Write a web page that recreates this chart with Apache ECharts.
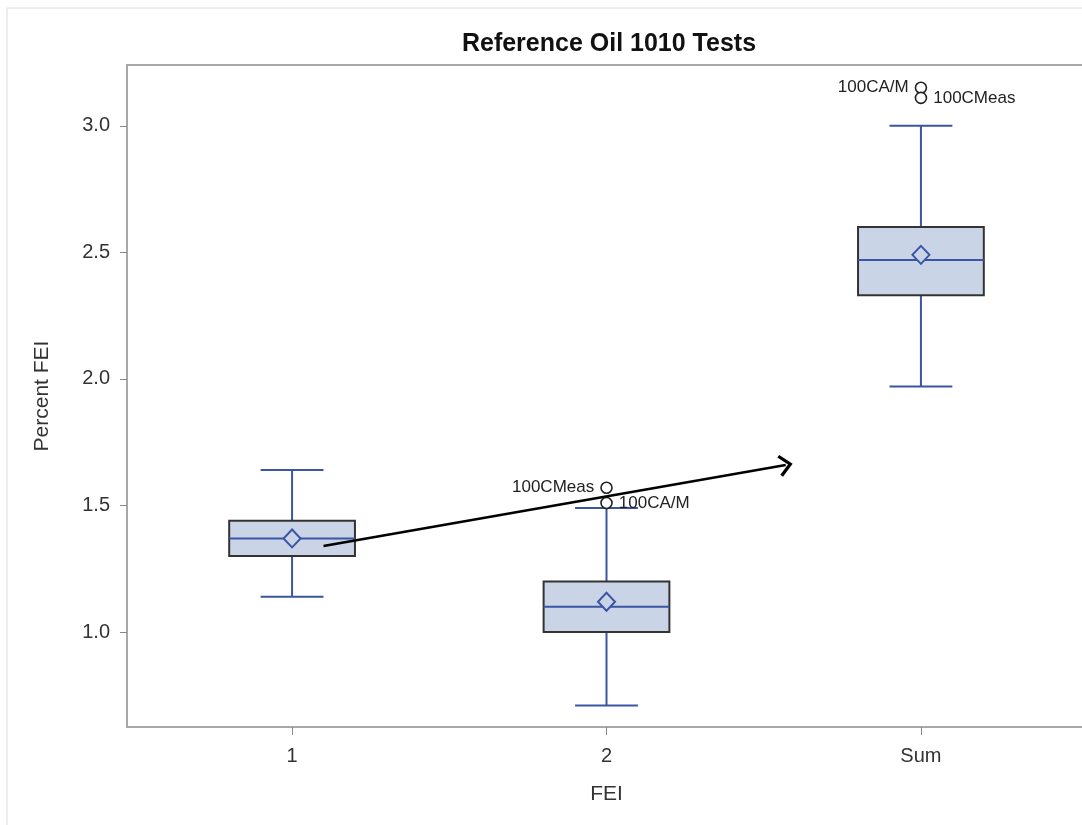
<!DOCTYPE html>
<html>
<head>
<meta charset="utf-8">
<script src="https://cdn.jsdelivr.net/npm/echarts@6/dist/echarts.min.js"></script>
<style>
  html, body { margin: 0; background: #fff; }
  #boxChart { width: 1082px; height: 825px; }
</style>
</head>
<body>
<div id="boxChart"></div>
<script>
// groups on the x axis
const categories = ["1", "2", "Sum"];

// box statistics per group
const whiskerLow = [1.14, 0.71, 1.97];
const q1 = [1.30, 1.00, 2.33];
const median = [1.37, 1.10, 2.47];
const q3 = [1.44, 1.20, 2.60];
const whiskerHigh = [1.64, 1.49, 3.00];
const means = [1.37, 1.12, 2.49];

// outliers (group index is 1-based)
const outlierGroup = [2, 2, 3, 3];
const outlierValue = [1.57, 1.51, 3.15, 3.11];
const outlierName = ["100CMeas", "100CA/M", "100CA/M", "100CMeas"];

// y tick labels
const yTicks = [1.0, 1.5, 2.0, 2.5, 3.0];

// annotation arrow, in data units [x, y]
const arrowFrom = [1.10, 1.34];
const arrowTo = [2.57, 1.66];

const chart = echarts.init(document.getElementById("boxChart"));

const blue = "#3b55a5";
const font = "Liberation Sans, Arial";
const boxData = categories.map((c, i) => [
  i + 1, whiskerLow[i], q1[i], median[i], q3[i], whiskerHigh[i]
]);

const options = {
  backgroundColor: "#fff",
  animation: false,
  title: {
    text: "Reference Oil 1010 Tests",
    left: 604,
    top: 27,
    textAlign: "center",
    textStyle: { fontFamily: font, fontSize: 25, fontWeight: "bold", color: "#111" },
  },
  graphic: [
    {
      type: "rect",
      shape: { x: 7, y: 8, width: 1200, height: 1000 },
      style: { fill: "none", stroke: "#dcdcdc", lineWidth: 1 },
      silent: true,
    },
  ],
  grid: {
    left: 127,
    width: 959,
    top: 65,
    bottom: 98,
    outerBoundsMode: "none",
    containLabel: false,
    show: true,
    borderColor: "#a8a8a8",
    borderWidth: 2,
  },
  xAxis: {
    type: "value",
    min: 0.475,
    max: 3.525,
    name: "FEI",
    nameLocation: "middle",
    nameGap: 57,
    nameTextStyle: { fontFamily: font, fontSize: 21, color: "#333" },
    splitLine: { show: false },
    axisLine: { lineStyle: { color: "#a8a8a8", width: 2 } },
    axisTick: { show: true, customValues: [1, 2, 3], length: 8, lineStyle: { color: "#888" } },
    axisLabel: {
      customValues: [1, 2, 3],
      formatter: (v) => categories[Math.round(v) - 1],
      margin: 19,
      fontFamily: font,
      fontSize: 20,
      color: "#333",
    },
  },
  yAxis: {
    type: "value",
    min: 0.625,
    max: 3.24,
    name: "Percent FEI",
    nameLocation: "middle",
    nameGap: 74,
    nameRotate: 90,
    nameTextStyle: { fontFamily: font, fontSize: 21, color: "#333" },
    splitLine: { show: false },
    axisLine: { show: true, lineStyle: { color: "#a8a8a8", width: 2 } },
    axisTick: { show: true, customValues: yTicks, length: 7, lineStyle: { color: "#888" } },
    axisLabel: {
      customValues: yTicks,
      formatter: (v) => v.toFixed(1),
      margin: 17,
      fontFamily: font,
      fontSize: 20,
      color: "#333",
    },
  },
  series: [
    {
      type: "custom",
      encode: { x: 0, y: [1, 2, 3, 4, 5] },
      data: boxData,
      renderItem: function (params, api) {
        const x = api.value(0);
        const lo = api.coord([x, api.value(1)]);
        const b1 = api.coord([x, api.value(2)]);
        const md = api.coord([x, api.value(3)]);
        const b3 = api.coord([x, api.value(4)]);
        const hi = api.coord([x, api.value(5)]);
        const half = api.size([0.4, 0])[0] / 2;
        const cap = half / 2;
        const cx = md[0];
        const ws = { stroke: blue, lineWidth: 2 };
        return {
          type: "group",
          children: [
            { type: "line", shape: { x1: cx, y1: b3[1], x2: cx, y2: hi[1] }, style: ws },
            { type: "line", shape: { x1: cx, y1: b1[1], x2: cx, y2: lo[1] }, style: ws },
            { type: "line", shape: { x1: cx - cap, y1: hi[1], x2: cx + cap, y2: hi[1] }, style: ws },
            { type: "line", shape: { x1: cx - cap, y1: lo[1], x2: cx + cap, y2: lo[1] }, style: ws },
            {
              type: "rect",
              shape: { x: cx - half, y: b3[1], width: half * 2, height: b1[1] - b3[1] },
              style: { fill: "#cad4e7", stroke: "#333", lineWidth: 2 },
            },
            { type: "line", shape: { x1: cx - half, y1: md[1], x2: cx + half, y2: md[1] }, style: ws },
          ],
        };
      },
      z: 2,
    },
    {
      type: "scatter",
      data: categories.map((c, i) => [i + 1, means[i]]),
      symbol: "diamond",
      symbolSize: [17, 18],
      itemStyle: { color: "#cad4e7", borderColor: blue, borderWidth: 2, opacity: 1 },
      z: 3,
    },
    {
      type: "scatter",
      data: outlierValue.map((v, i) => ({
        value: [outlierGroup[i], v],
        name: outlierName[i],
        label: { position: i % 2 === 0 ? "left" : "right" },
      })),
      symbol: "circle",
      symbolSize: 11,
      itemStyle: { color: "#fff", borderColor: "#222", borderWidth: 1.6, opacity: 1 },
      label: {
        show: true,
        formatter: (p) => p.name,
        distance: 6,
        fontFamily: font,
        fontSize: 17,
        color: "#222",
      },
      z: 3,
    },
    {
      type: "line",
      data: [],
      z: 10,
      markLine: {
        silent: true,
        symbol: ["none", "path://M10,0 L20,10 L18,12 L10,4 L2,12 L0,10 Z"],
        symbolSize: [22, 14],
        label: { show: false },
        lineStyle: { color: "#000", width: 2.5, type: "solid" },
        data: [[{ coord: arrowFrom }, { coord: arrowTo }]],
      },
    },
  ],
};

chart.setOption(options);
</script>
</body>
</html>
